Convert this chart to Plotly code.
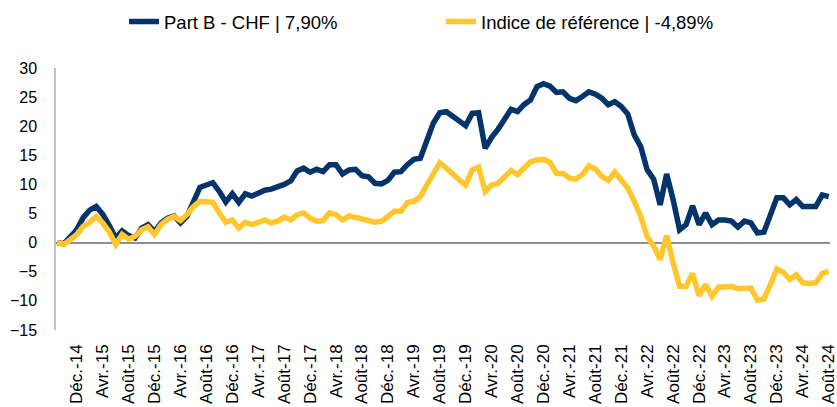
import plotly.graph_objects as go

tick_labels = ["Déc.-14","Avr.-15","Août-15","Déc.-15","Avr.-16","Août-16","Déc.-16","Avr.-17",
               "Août-17","Déc.-17","Avr.-18","Août-18","Déc.-18","Avr.-19","Août-19","Déc.-19",
               "Avr.-20","Août-20","Déc.-20","Avr.-21","Août-21","Déc.-21","Avr.-22","Août-22",
               "Déc.-22","Avr.-23","Août-23","Déc.-23","Avr.-24","Août-24"]

part_b = [0, -0.2, 1.0, 2.2, 4.3, 5.6, 6.2, 4.9, 3.0, 0.8,
          2.0, 1.2, 0.8, 2.5, 3.1, 1.9, 3.4, 4.2, 4.6, 3.4,
          4.5, 7.0, 9.5, 9.9, 10.3, 8.8, 7.0, 8.4, 6.9, 8.4,
          8.0, 8.5, 9.0, 9.2, 9.5, 10.0, 10.6, 12.3, 12.8, 12.1,
          12.6, 12.2, 13.4, 13.4, 11.8, 12.5, 12.6, 11.5, 11.3, 10.2,
          10.1, 10.7, 12.1, 12.2, 13.4, 14.3, 14.5, 17.7, 20.5, 22.3,
          22.5, 21.7, 20.8, 20.1, 22.2, 22.3, 16.2, 18.1, 19.5, 21.1,
          22.9, 22.5, 23.7, 24.5, 26.8, 27.3, 26.9, 25.8, 25.9, 24.8,
          24.4, 25.1, 25.9, 25.5, 24.8, 23.7, 24.2, 23.4, 22.1, 18.5,
          16.5, 12.5, 10.9, 6.5, 11.8, 7.4, 2.2, 3.1, 6.3, 3.1,
          5.1, 3.1, 3.9, 3.9, 3.7, 2.7, 3.7, 3.4, 1.7, 1.8,
          4.5, 7.7, 7.7, 6.5, 7.4, 6.2, 6.2, 6.2, 8.2, 7.9]

indice = [0, -0.3, 0.5, 1.4, 2.8, 3.5, 4.5, 3.4, 1.9, -0.3,
          1.4, 0.6, 1.1, 2.2, 2.7, 1.4, 3.1, 4.0, 4.5, 3.8,
          4.8, 6.2, 7.1, 6.9, 6.9, 5.1, 3.5, 3.9, 2.5, 3.5,
          3.1, 3.5, 3.9, 3.4, 3.7, 4.4, 3.9, 4.8, 5.1, 4.2,
          3.7, 3.8, 5.1, 4.8, 3.9, 4.6, 4.4, 4.1, 3.8, 3.5,
          3.7, 4.5, 5.4, 5.4, 6.9, 7.1, 7.9, 9.9, 11.7, 13.7,
          12.8, 11.7, 10.8, 9.9, 12.5, 13.0, 8.8, 9.9, 10.2, 11.3,
          12.4, 11.7, 12.8, 13.9, 14.2, 14.3, 13.8, 11.9, 11.9, 11.1,
          10.9, 11.7, 13.2, 12.6, 11.4, 10.7, 12.1, 10.8, 9.4, 7.1,
          4.5, 1.0, -0.6, -2.9, 1.2, -3.5, -7.5, -7.5, -5.3, -9.1,
          -7.2, -9.2, -7.6, -7.6, -7.5, -7.9, -7.9, -7.8, -9.9, -9.7,
          -7.2, -4.5, -5.1, -6.3, -5.5, -6.9, -7.0, -6.9, -5.3, -4.89]

series_names = ["Part B - CHF | 7,90%", "Indice de référence | -4,89%"]
y_ticks = [-15, -10, -5, 0, 5, 10, 15, 20, 25, 30]

x_idx = list(range(len(part_b)))
tick_pos = list(range(3, len(part_b), 4))

NAVY = "#05346B"
YELLOW = "#FFC72C"

fig = go.Figure()
fig.add_trace(go.Scatter(x=x_idx, y=part_b, mode="lines", name=series_names[0],
                         line=dict(color=NAVY, width=5.5), legend="legend"))
fig.add_trace(go.Scatter(x=x_idx, y=indice, mode="lines", name=series_names[1],
                         line=dict(color=YELLOW, width=5.5), legend="legend2"))

font_family = "Liberation Sans, Arial, sans-serif"
W, H = 837, 407
ML, MR = 56, 7
PW = W - ML - MR

def px_to_paper(px):
    return (px - ML) / PW

leg_common = dict(orientation="h", xanchor="left", yanchor="middle", yref="container",
                  y=1 - 22 / H, font=dict(size=18.5, color="#000000"),
                  bgcolor="rgba(0,0,0,0)", itemwidth=30)

fig.update_layout(
    width=W, height=H,
    margin=dict(l=ML, r=MR, t=68, b=77),
    paper_bgcolor="white", plot_bgcolor="white",
    font=dict(family=font_family, size=16, color="#000000"),
    showlegend=True,
    legend=dict(x=px_to_paper(124), **leg_common),
    legend2=dict(x=px_to_paper(441), **leg_common),
    xaxis=dict(range=[-0.2, len(part_b) - 0.8], tickvals=tick_pos, ticktext=tick_labels,
               tickangle=-90, showgrid=False, zeroline=False, showline=False,
               ticks="", tickfont=dict(size=17), ticklabelstandoff=10,
               ticklabeloverflow="allow", automargin=False),
    yaxis=dict(range=[-15, 30], tickvals=y_ticks,
               showgrid=False, zeroline=True, zerolinecolor="#8C9096", zerolinewidth=2,
               showline=True, linecolor="#BFC3C8", linewidth=1.5, ticks="",
               tickfont=dict(size=16), ticklabelstandoff=14, automargin=False),
)

fig.write_html("out.html")
